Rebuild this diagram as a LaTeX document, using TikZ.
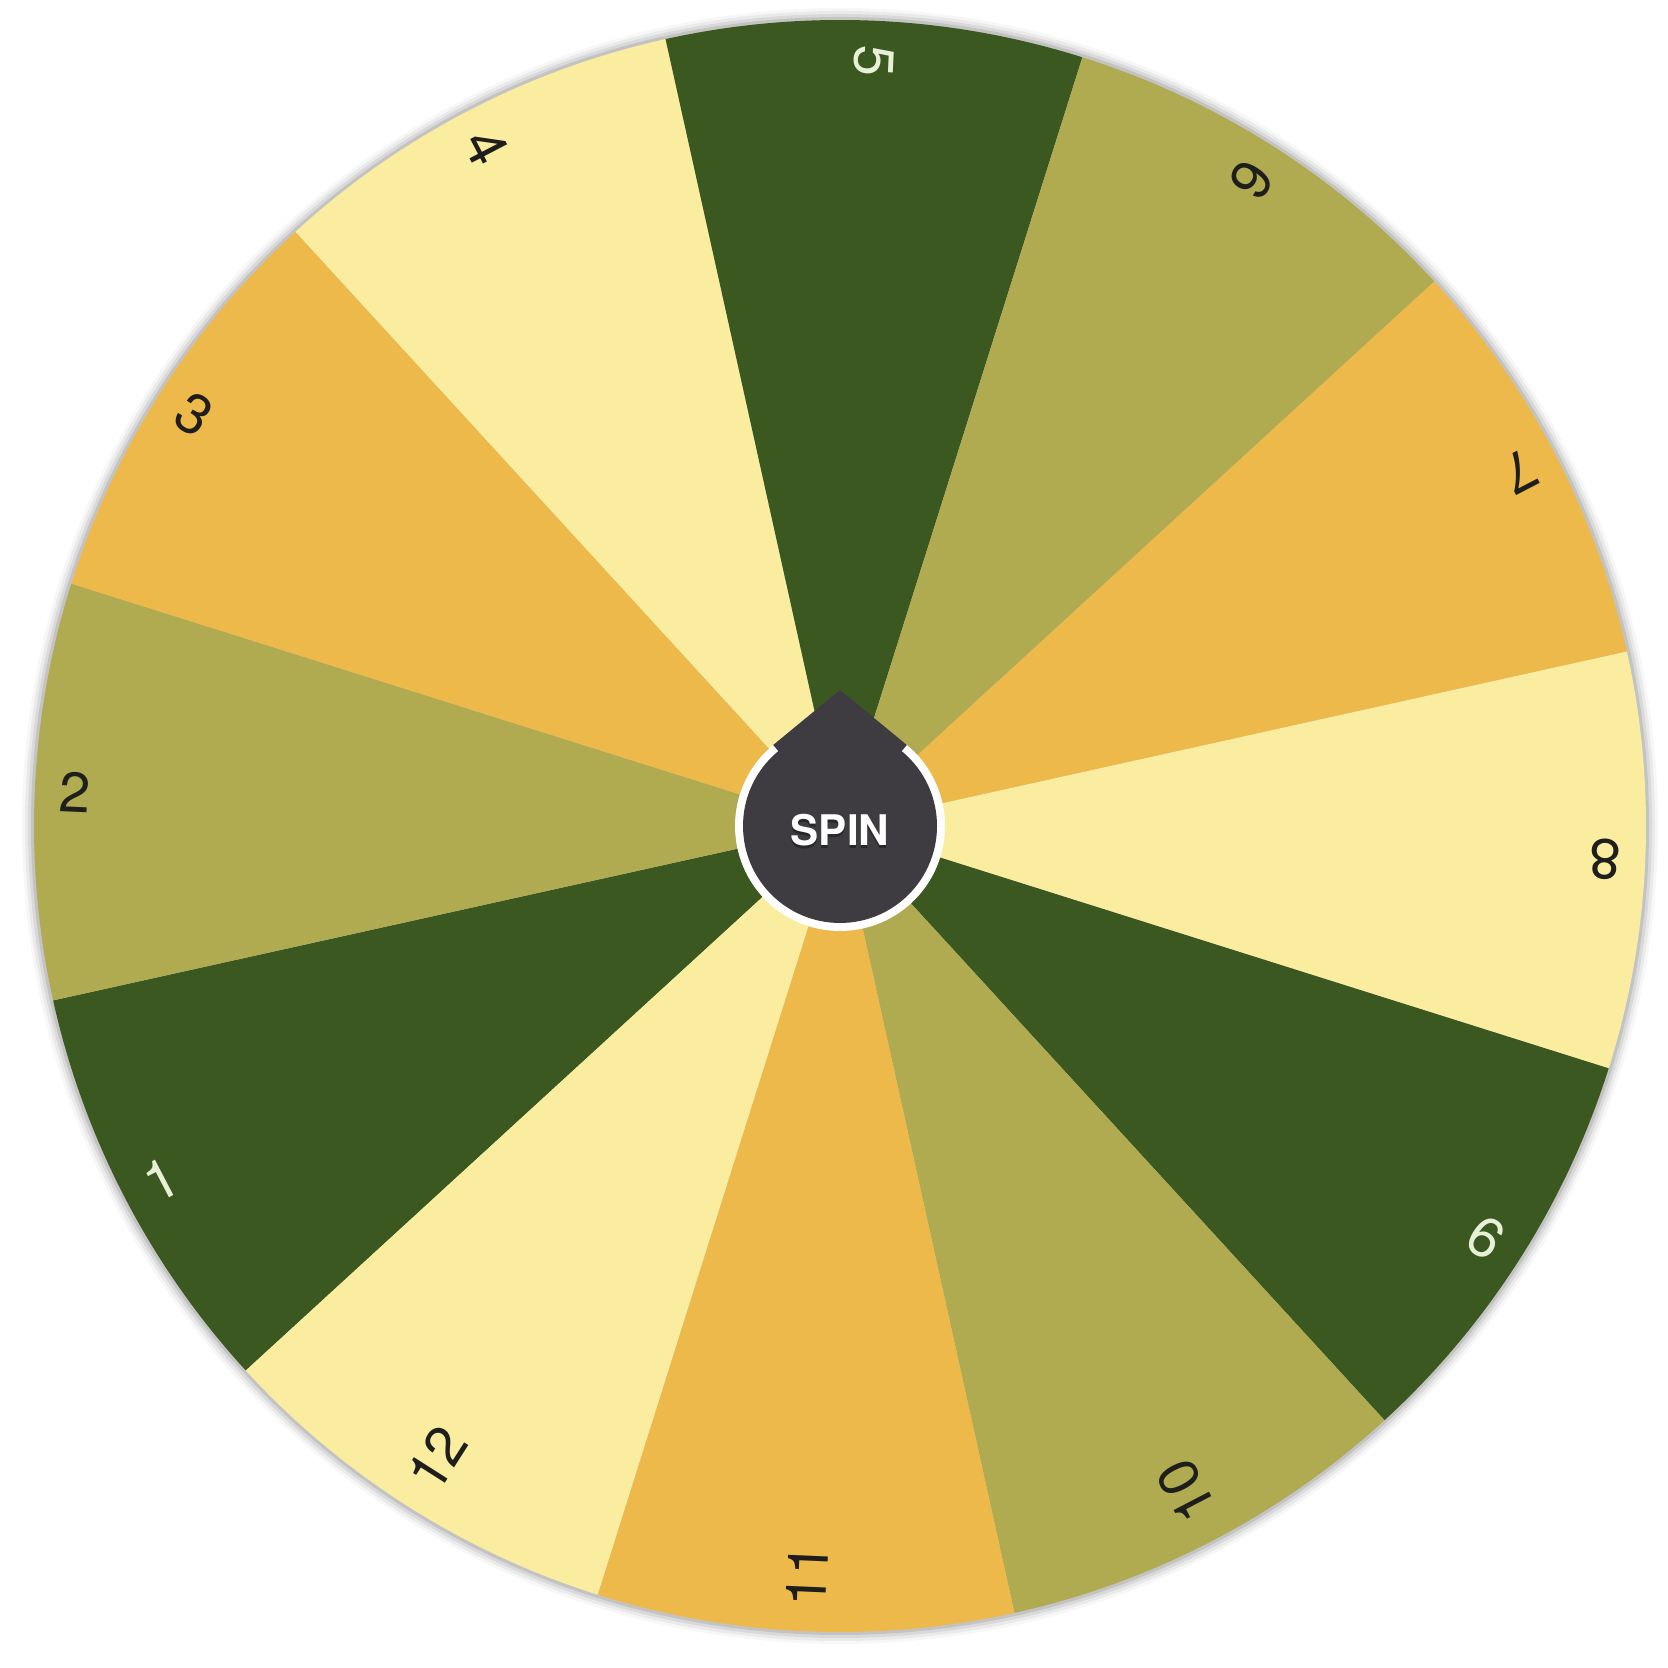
\documentclass[tikz,border=0pt]{standalone}
\usepackage{fontspec}
\setmainfont{TeX Gyre Heros}
\usetikzlibrary{calc}
\definecolor{wheeldark}{RGB}{58,88,31}
\definecolor{wheelolive}{RGB}{176,170,80}
\definecolor{wheelorange}{RGB}{237,185,74}
\definecolor{wheelcream}{RGB}{250,237,160}
\definecolor{wheelink}{RGB}{30,30,28}
\definecolor{wheelpale}{RGB}{232,240,216}
\definecolor{hubdark}{RGB}{62,60,65}
\tikzset{
  slicelabel/.style={
    font=\fontsize{16}{16}\selectfont, inner sep=0pt, anchor=west
  },
  spinlabel/.style={
    font=\fontsize{12}{12}\selectfont\bfseries, text=white, inner sep=0pt
  },
}

\begin{document}
\begin{tikzpicture}[x=0.1mm, y=0.1mm]
  \useasboundingbox (0,0) rectangle (1668,1668);
  \coordinate (hub) at (840,842);

  % ── soft edge round the wheel ──
  \foreach \r/\o in {81.8/0.03, 81.5/0.05, 81.2/0.07, 80.9/0.10}
    \fill[black, opacity=\o] (hub) circle (\r mm);

  % ── slices and numbers ──
  \foreach \k/\col/\ink in {1/wheeldark/wheelpale, 2/wheelolive/wheelink,
      3/wheelorange/wheelink, 4/wheelcream/wheelink, 5/wheeldark/wheelpale,
      6/wheelolive/wheelink, 7/wheelorange/wheelink, 8/wheelcream/wheelink,
      9/wheeldark/wheelpale, 10/wheelolive/wheelink, 11/wheelorange/wheelink,
      12/wheelcream/wheelink} {
    \pgfmathsetmacro\mid{237.5-30*\k}
    \fill[\col] (hub) -- ($(hub)+(\mid-15:806)$)
      arc[start angle=\mid-15, end angle=\mid+15, radius=80.6mm] -- cycle;
    \node[slicelabel, text=\ink, rotate=\mid+180] (num\k)
      at ($(hub)+(\mid:782)$) {\k};
  }

  % ── spin button ──
  \coordinate (tip) at ($(hub)+(0,136)$);
  \fill[white] (hub) circle (10.5mm);
  \fill[hubdark] (hub) circle (9.7mm);
  \fill[hubdark] (hub) -- ($(hub)+(50.5:105)$) -- (tip)
    -- ($(hub)+(129.5:105)$) -- cycle;
  \node[spinlabel, text=black, opacity=0.35] (spinshade)
    at ($(hub)+(0,-7)$) {SPIN};
  \node[spinlabel] (spin) at ($(hub)+(0,-4)$) {SPIN};
\end{tikzpicture}
\end{document}
